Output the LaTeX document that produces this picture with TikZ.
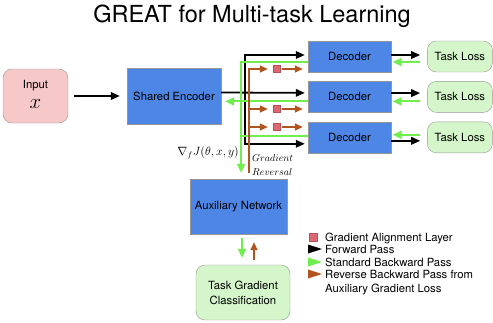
\documentclass[tikz,border=0pt]{standalone}
\usepackage[no-math]{fontspec}
\setmainfont{TeX Gyre Heros}
\usetikzlibrary{arrows.meta,positioning}
\definecolor{encblue}{RGB}{78,134,230}
\definecolor{boxgray}{RGB}{150,150,150}
\definecolor{inpink}{RGB}{246,200,200}
\definecolor{lossgreen}{RGB}{212,246,202}
\definecolor{bwdgreen}{RGB}{112,238,78}
\definecolor{revbrown}{RGB}{178,84,32}
\definecolor{galred}{RGB}{222,104,114}

\begin{document}
\begin{tikzpicture}[
  x=1pt, y=1pt,
  font=\fontsize{11.3}{13.5}\selectfont,
  box/.style={draw=boxgray, fill=encblue, inner sep=0pt, align=center},
  soft/.style={draw=boxgray, rounded corners=9pt, inner sep=0pt, align=center},
  dec/.style={box, minimum width=83pt, minimum height=31pt},
  loss/.style={soft, fill=lossgreen, minimum width=65pt, minimum height=31pt},
  fwd/.style={-{Triangle[length=9pt,width=7.5pt]}, line width=1.8pt, black},
  bwd/.style={line width=2pt, bwdgreen},
  bwdarrow/.style={bwd, -{Triangle[length=9pt,width=8pt]}},
  rev/.style={line width=1.6pt, revbrown},
  revarrow/.style={rev, -{Triangle[length=8pt,width=7pt]}},
  gal/.style={draw=galred!80!black, fill=galred, line width=0.4pt, minimum size=7pt, inner sep=0pt},
  legtxt/.style={anchor=base west, inner sep=0pt}
]
\useasboundingbox (0,0) rectangle (493,-322);

\node[anchor=base, font=\fontsize{23.5}{28}\selectfont] (title) at (252,-22) {GREAT for Multi-task Learning};

\node[soft, fill=inpink, minimum width=65pt, minimum height=54pt, text depth=3pt] (in) at (35.5,-96) {Input\\[6pt]{\fontsize{21}{21}\selectfont$x$}};
\node[box, minimum width=94pt, minimum height=56pt] (enc) at (174,-96) {Shared Encoder};

\node[dec] (dec1) at (349.5,-56.5) {Decoder};
\node[dec, below=9pt of dec1] (dec2) {Decoder};
\node[dec, below=9pt of dec2] (dec3) {Decoder};
\node[loss, right=36pt of dec1] (loss1) {Task Loss};
\node[loss, right=36pt of dec2] (loss2) {Task Loss};
\node[loss, right=36pt of dec3] (loss3) {Task Loss};

\node[box, minimum width=97pt, minimum height=55pt] (aux) at (238.5,-206.5) {Auxiliary Network};
\node[soft, fill=lossgreen, minimum width=94pt, minimum height=55pt] (cls) at (243,-292.5) {Task Gradient\\[1.5pt]Classification};

\node[anchor=east, inner sep=1pt, font=\fontsize{11.5}{13}\selectfont] (grad) at (240,-152.5) {$\nabla_f J(\theta,x,y)$};
\node[anchor=west, inner sep=0pt, align=left, font=\fontsize{10}{13}\selectfont] (grl) at (252,-165) {$Gradient$\\[1pt]$Reversal$};

\node[gal] (g1) at (276.5,-69) {};
\node[gal] (g2) at (276.5,-109) {};
\node[gal] (g3) at (276.5,-127) {};

\coordinate (split) at (245,-92.5);
\coordinate (gx) at ([xshift=2.5pt]aux.north);
\coordinate (rx) at ([xshift=10.5pt]aux.north);

\draw[fwd, shorten <=6pt, shorten >=7pt] (in) -- (enc);
\draw[fwd, shorten >=3pt] ([yshift=3.5pt]enc.east) -- ([yshift=4pt]dec2.west);
\draw[fwd, shorten >=3pt] (split) |- ([yshift=1.5pt]dec1.west);
\draw[fwd, shorten >=3pt] (split) |- ([yshift=-6.5pt]dec3.west);

\draw[bwdarrow, shorten >=6pt] ([yshift=-5.5pt]dec1.west) -| (gx);
\draw[bwd] ([yshift=1.5pt]dec3.west) -- ([yshift=1.5pt]dec3.west -| gx);
\draw[bwdarrow, shorten >=4pt] ([yshift=-4.5pt]dec2.west) -- ([yshift=-4.5pt]dec2.west -| enc.east);

\draw[revarrow, shorten <=6pt, shorten >=5pt] (rx) |- (g1.west);
\draw[revarrow, shorten >=5pt] (rx |- g2) -- (g2.west);
\draw[revarrow, shorten >=5pt] (rx |- g3) -- (g3.west);
\draw[revarrow, shorten <=2pt, shorten >=5pt] (g1.east) -- (g1.east -| dec1.west);
\draw[revarrow, shorten <=2pt, shorten >=5pt] (g2.east) -- (g2.east -| dec2.west);
\draw[revarrow, shorten <=2pt, shorten >=5pt] (g3.east) -- (g3.east -| dec3.west);

\draw[fwd, shorten >=7pt] ([yshift=1.5pt]dec1.east) -- ([yshift=1.5pt]loss1.west);
\draw[bwdarrow, shorten <=7pt, shorten >=1.5pt] ([yshift=-5.5pt]loss1.west) -- ([yshift=-5.5pt]dec1.east);
\draw[fwd, shorten >=7pt] ([yshift=3.8pt]dec2.east) -- ([yshift=3.8pt]loss2.west);
\draw[bwdarrow, shorten <=7pt, shorten >=1.5pt] ([yshift=-4.5pt]loss2.west) -- ([yshift=-4.5pt]dec2.east);
\draw[bwdarrow, shorten <=7pt, shorten >=1.5pt] ([yshift=2.5pt]loss3.west) -- ([yshift=2.5pt]dec3.east);
\draw[fwd, shorten >=7pt] ([yshift=-3.5pt]dec3.east) -- ([yshift=-3.5pt]loss3.west);

\draw[bwdarrow, shorten <=4pt, shorten >=7pt] ([xshift=3.5pt]aux.south) -- ([xshift=3.5pt]aux.south |- cls.north);
\draw[revarrow, shorten <=5pt, shorten >=8pt] ([xshift=15.5pt]aux.south |- cls.north) -- ([xshift=15.5pt]aux.south);

\node[gal, minimum size=8pt] (lg1) at (313,-237) {};
\node[legtxt] (lt1) at (325,-241) {Gradient Alignment Layer};
\fill (308,-244.5) -- (322,-249) -- (308,-253.5) -- cycle;
\node[legtxt] (lt2) at (325,-253) {Forward Pass};
\fill[bwdgreen] (308,-257.5) -- (322,-262) -- (308,-266.5) -- cycle;
\node[legtxt] (lt3) at (325,-266) {Standard Backward Pass};
\fill[revbrown] (308,-269.5) -- (322,-274) -- (308,-278.5) -- cycle;
\node[legtxt] (lt4) at (325,-278) {Reverse Backward Pass from};
\node[legtxt] (lt5) at (325,-292) {Auxiliary Gradient Loss};
\end{tikzpicture}
\end{document}
